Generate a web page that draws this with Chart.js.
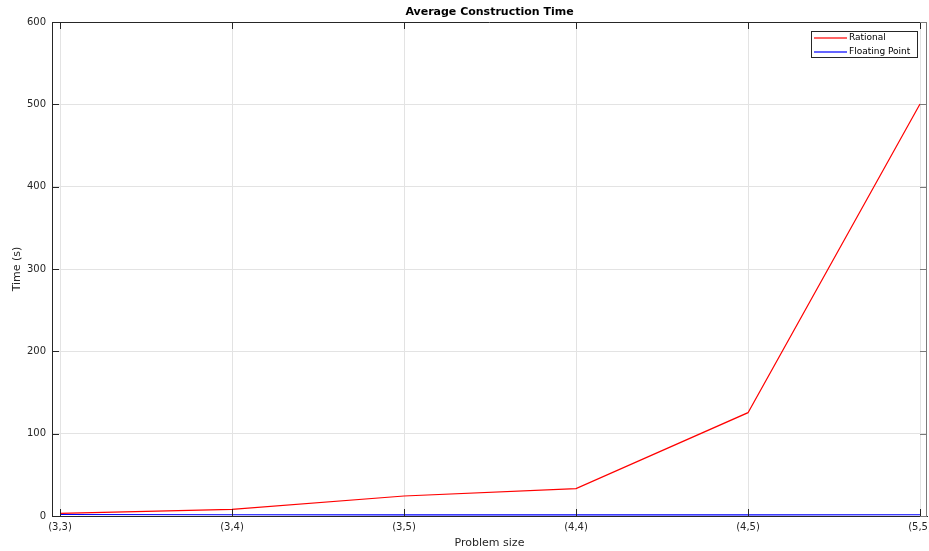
<!DOCTYPE html>
<html>
<head>
<meta charset="utf-8">
<title>Average Construction Time</title>
<script src="https://cdn.jsdelivr.net/npm/chart.js@4/dist/chart.umd.min.js"></script>
<style>
  html, body { margin: 0; padding: 0; background: #ffffff; }
  #wrap { width: 929px; height: 551px; position: relative; }
</style>
</head>
<body>
<div id="wrap"><canvas id="c" width="929" height="551"></canvas></div>
<script>
// Problem sizes on the x axis
const problemSizes = ['(3,3)', '(3,4)', '(3,5)', '(4,4)', '(4,5)', '(5,5)'];
// Average construction time in seconds
const rationalTimes = [3.3, 8.1, 24.3, 33.2, 125.5, 500.4];
const floatingTimes = [1.8, 1.5, 1.4, 1.4, 1.3, 1.5];
const yTicks = [0, 100, 200, 300, 400, 500, 600];
const seriesNames = ['Rational', 'Floating Point'];
const seriesColors = ['rgb(255, 0, 0)', 'rgb(0, 0, 255)'];

const titleText = 'Average Construction Time';
const axisColor = '#262626';
const rightColor = '#7a7a7a';
const gridColor = '#e3e3e3';
const fontFamily = "'DejaVu Sans', sans-serif";

const toPoints = vals => vals.map((v, i) => ({ x: i, y: v }));

// Title, inward tick marks, box outline and boxed legend
const decorations = {
  id: 'decorations',
  afterDraw(chart) {
    const { ctx, chartArea: a, scales } = chart;
    const xs = scales.x, ys = scales.y;
    ctx.save();

    // title
    ctx.fillStyle = '#000000';
    ctx.font = 'bold 11px ' + fontFamily;
    ctx.textAlign = 'center';
    ctx.textBaseline = 'middle';
    ctx.fillText(titleText, (a.left + a.right) / 2, 12);

    // box outline (top and right)
    ctx.strokeStyle = axisColor;
    ctx.lineWidth = 1;
    ctx.beginPath();
    ctx.moveTo(a.left, a.top + 0.5);
    ctx.lineTo(a.right, a.top + 0.5);
    ctx.stroke();
    ctx.strokeStyle = rightColor;
    ctx.beginPath();
    ctx.moveTo(a.right - 0.5, a.top);
    ctx.lineTo(a.right - 0.5, a.bottom);
    ctx.stroke();

    // inward tick marks
    const tl = 7;
    ctx.strokeStyle = axisColor;
    ctx.beginPath();
    xs.ticks.forEach(t => {
      const px = Math.round(xs.getPixelForValue(t.value)) + 0.5;
      ctx.moveTo(px, a.bottom); ctx.lineTo(px, a.bottom - tl);
      ctx.moveTo(px, a.top); ctx.lineTo(px, a.top + tl);
    });
    ys.ticks.forEach(t => {
      const py = Math.round(ys.getPixelForValue(t.value)) + 0.5;
      ctx.moveTo(a.left, py); ctx.lineTo(a.left + tl, py);
    });
    ctx.stroke();
    ctx.strokeStyle = rightColor;
    ctx.beginPath();
    ys.ticks.forEach(t => {
      const py = Math.round(ys.getPixelForValue(t.value)) + 0.5;
      ctx.moveTo(a.right, py); ctx.lineTo(a.right - tl, py);
    });
    ctx.stroke();

    // legend
    const lx = 811.5, ly = 31.5, lw = 106, lh = 26;
    ctx.fillStyle = '#ffffff';
    ctx.fillRect(lx, ly, lw, lh);
    ctx.strokeStyle = '#262626';
    ctx.lineWidth = 1;
    ctx.strokeRect(lx, ly, lw, lh);
    ctx.font = '9px ' + fontFamily;
    ctx.textAlign = 'left';
    ctx.textBaseline = 'middle';
    seriesNames.forEach((name, i) => {
      const y = 38 + i * 14;
      ctx.fillStyle = seriesColors[i];
      ctx.fillRect(814, y - 0.6, 33, 1.2);
      ctx.fillStyle = '#000000';
      ctx.fillText(name, 849, y);
    });
    ctx.restore();
  }
};

new Chart(document.getElementById('c'), {
  type: 'line',
  data: {
    datasets: [
      { label: seriesNames[0], data: toPoints(rationalTimes), borderColor: seriesColors[0], borderWidth: 1.2,
        pointRadius: 0, tension: 0, fill: false },
      { label: seriesNames[1], data: toPoints(floatingTimes), borderColor: seriesColors[1], borderWidth: 1.2,
        pointRadius: 0, tension: 0, fill: false }
    ]
  },
  options: {
    responsive: false,
    animation: false,
    events: [],
    layout: { padding: { left: 0, right: 2, top: 22, bottom: 0 } },
    plugins: { legend: { display: false }, title: { display: false }, tooltip: { enabled: false } },
    scales: {
      x: {
        type: 'linear',
        min: -8 / 172,
        max: 5 + 7 / 172,
        afterBuildTicks: s => { s.ticks = problemSizes.map((_, i) => ({ value: i })); },
        afterFit: s => { s.height = 35; s.paddingLeft = 0; s.paddingRight = 0; },
        ticks: {
          callback: v => problemSizes[v],
          color: axisColor, padding: 5, maxRotation: 0, autoSkip: false,
          font: { family: fontFamily, size: 10 }
        },
        grid: { color: gridColor, drawTicks: false },
        border: { color: axisColor, width: 1 },
        title: { display: true, text: 'Problem size', color: axisColor,
          font: { family: fontFamily, size: 11 }, padding: { top: 0, bottom: 1.5 } }
      },
      y: {
        min: 0, max: 600,
        afterBuildTicks: s => { s.ticks = yTicks.map(v => ({ value: v })); },
        afterFit: s => { s.width = 52; s.paddingTop = 0; s.paddingBottom = 0; },
        ticks: { color: axisColor, padding: 6, font: { family: fontFamily, size: 10 } },
        grid: { color: gridColor, drawTicks: false },
        border: { color: axisColor, width: 1 },
        title: { display: true, text: 'Time (s)', color: axisColor,
          font: { family: fontFamily, size: 11 }, padding: { top: 10.5, bottom: 0 } }
      }
    }
  },
  plugins: [decorations]
});
</script>
</body>
</html>
